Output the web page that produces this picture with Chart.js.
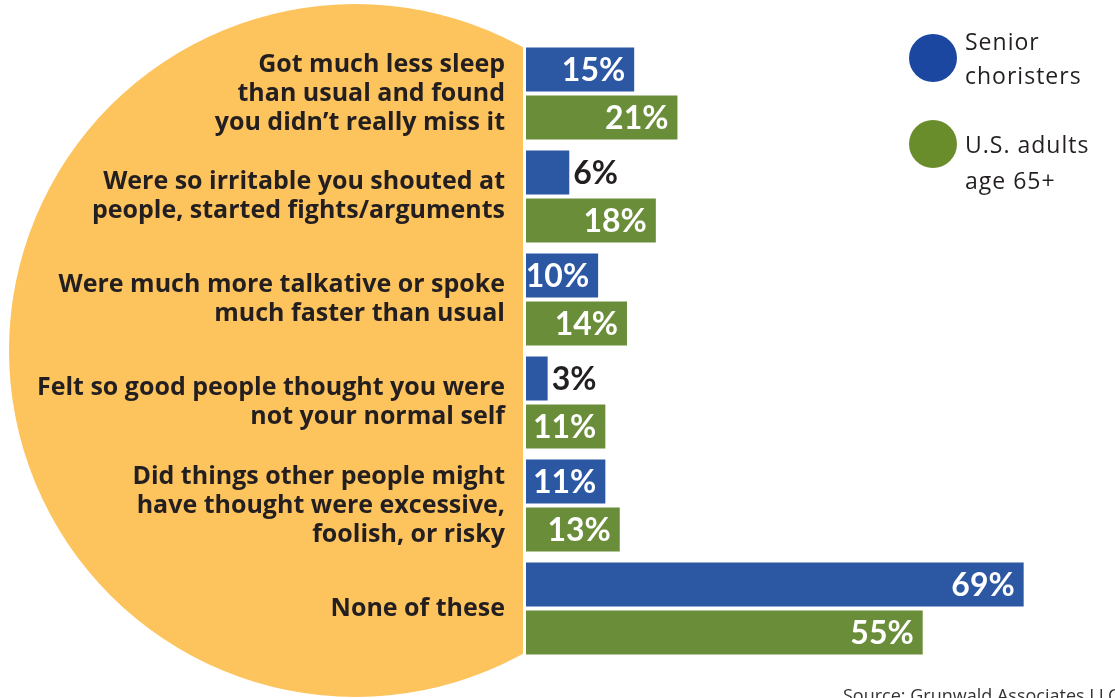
<!DOCTYPE html>
<html>
<head>
<meta charset="utf-8">
<title>Senior choristers vs U.S. adults</title>
<script src="https://cdn.jsdelivr.net/npm/chart.js@4.4.1/dist/chart.umd.min.js"></script>
<style>
    html, body { margin: 0; padding: 0; background: #fff; }
    #chart { display: block; }
</style>
</head>
<body>
<canvas id="chart" width="1115" height="698"></canvas>
<script>
// 数据
const categories = [
    ['Got much less sleep', 'than usual and found', 'you didn\u2019t really miss it'],
    ['Were so irritable you shouted at', 'people, started fights/arguments'],
    ['Were much more talkative or spoke', 'much faster than usual'],
    ['Felt so good people thought you were', 'not your normal self'],
    ['Did things other people might', 'have thought were excessive,', 'foolish, or risky'],
    ['None of these']
];
const seniorValues = [15, 6, 10, 3, 11, 69];
const adultValues = [21, 18, 14, 11, 13, 55];
const seriesNames = ['Senior choristers', 'U.S. adults age 65+'];
const legendLines = [['Senior', 'choristers'], ['U.S. adults', 'age 65+']];
const sourceText = 'Source: Grunwald Associates LLC';

// 样式
const BLUE = '#2B57A3';
const GREEN = '#6A8D39';
const LEGEND_COLORS = ['#1B47A0', '#6A8D2C'];
const ORANGE = '#FDC35D';
const INK = '#231F20';
const LABEL_FONT = '"Open Sans", Lato, sans-serif';
const VALUE_FONT = 'Lato, "Open Sans", sans-serif';

/**
 * 背景半圆（圆心在左侧，超出柱状区域部分裁掉）
 */
const circlePlugin = {
    id: 'bgCircle',
    beforeDraw(chart) {
        const ctx = chart.ctx;
        ctx.save();
        ctx.beginPath();
        ctx.rect(0, 0, 523, chart.height);
        ctx.clip();
        ctx.fillStyle = ORANGE;
        ctx.beginPath();
        ctx.arc(355.5, 350.5, 346.5, 0, Math.PI * 2);
        ctx.fill();
        ctx.restore();
    }
};

/**
 * 柱子上的数值标签：10% 以上放在柱内（白字），否则放在柱外（黑字）
 */
const valueLabelPlugin = {
    id: 'valueLabels',
    afterDatasetsDraw(chart) {
        const ctx = chart.ctx;
        ctx.save();
        ctx.font = 'bold 32px ' + VALUE_FONT;
        ctx.textBaseline = 'middle';
        chart.data.datasets.forEach((ds, i) => {
            const meta = chart.getDatasetMeta(i);
            meta.data.forEach((bar, j) => {
                const v = ds.data[j];
                const text = v + '%';
                if (v >= 10) {
                    ctx.fillStyle = '#fff';
                    ctx.textAlign = 'right';
                    ctx.fillText(text, bar.x - 9, bar.y + 1);
                } else {
                    ctx.fillStyle = INK;
                    ctx.textAlign = 'left';
                    ctx.fillText(text, bar.x + 4, bar.y + 1);
                }
            });
        });
        ctx.restore();
    }
};

/**
 * 右上角图例 + 底部来源
 */
const legendPlugin = {
    id: 'sideLegend',
    afterDraw(chart) {
        const ctx = chart.ctx;
        ctx.save();
        const dots = [58, 144];
        const baselines = [[50, 84], [153, 189]];
        legendLines.forEach((lines, i) => {
            ctx.fillStyle = LEGEND_COLORS[i];
            ctx.beginPath();
            ctx.arc(933, dots[i], 24, 0, Math.PI * 2);
            ctx.fill();
            ctx.fillStyle = INK;
            ctx.font = '23px "Open Sans", sans-serif';
            ctx.letterSpacing = '1px';
            ctx.textAlign = 'left';
            ctx.textBaseline = 'alphabetic';
            lines.forEach((line, k) => {
                ctx.fillText(line, 965, baselines[i][k]);
            });
        });
        ctx.letterSpacing = '0px';
        ctx.fillStyle = '#333';
        ctx.font = '18px "Open Sans", sans-serif';
        ctx.fillText(sourceText, 843, 702);
        ctx.restore();
    }
};

function buildChart() {
    const ctx = document.getElementById('chart').getContext('2d');
    return new Chart(ctx, {
        type: 'bar',
        data: {
            labels: categories,
            datasets: [
                { label: seriesNames[0], data: seniorValues, backgroundColor: BLUE },
                { label: seriesNames[1], data: adultValues, backgroundColor: GREEN }
            ]
        },
        options: {
            indexAxis: 'y',
            responsive: false,
            animation: false,
            categoryPercentage: 0.932,
            barPercentage: 0.917,
            layout: { padding: { top: 42, bottom: 38, left: 0, right: 12 } },
            plugins: {
                legend: { display: false },
                tooltip: { enabled: false }
            },
            scales: {
                x: {
                    display: false,
                    min: 0,
                    max: 80
                },
                y: {
                    grid: { display: false, drawTicks: false },
                    border: { display: false },
                    afterFit(scale) {
                        scale.width = 526;
                        scale.paddingTop = 0;
                        scale.paddingBottom = 0;
                    },
                    ticks: {
                        autoSkip: false,
                        padding: 21,
                        color: INK,
                        font: { family: LABEL_FONT, size: 25, weight: 'bold', lineHeight: 1.16 }
                    }
                }
            }
        },
        plugins: [circlePlugin, valueLabelPlugin, legendPlugin]
    });
}

buildChart();
</script>
</body>
</html>
